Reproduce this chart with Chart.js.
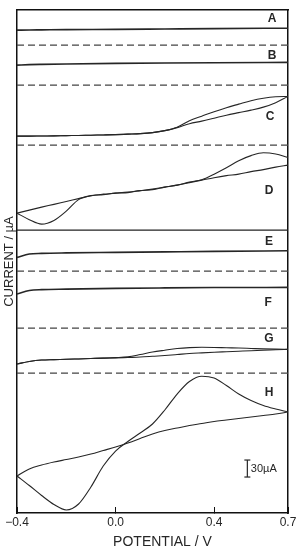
<!DOCTYPE html>
<html>
<head>
<meta charset="utf-8">
<script src="https://cdn.jsdelivr.net/npm/chart.js@4.4.1/dist/chart.umd.min.js"></script>
<style>
  html, body { margin: 0; padding: 0; background: #fff; }
</style>
</head>
<body>
<canvas id="cvChart" width="296" height="548"></canvas>
<script>
// potential grid (V) for the full voltammograms
const potential = [-0.4, -0.35, -0.3, -0.25, -0.2, -0.15, -0.1, -0.05, 0.0, 0.05, 0.1, 0.15,
                   0.2, 0.25, 0.3, 0.35, 0.4, 0.45, 0.5, 0.55, 0.6, 0.65, 0.7];
// coarser grid for the nearly flat traces
const potentialFlat = [-0.4, -0.35, -0.3, -0.2, 0.0, 0.2, 0.4, 0.7];

const panels = ['A', 'B', 'C', 'D', 'E', 'F', 'G', 'H'];
// each panel sits on its own baseline of the stacked current axis (uA)
const panelBase = [825.9, 755.3, 649.4, 499.4, 427.1, 326.5, 247.1, 0];

// currents (uA) above the panel baseline
const currentA = [26.5, 26.8, 27.0, 27.4, 27.9, 28.6, 29.3, 30.0];
const currentB = [35.3, 36.2, 36.7, 37.4, 38.5, 39.2, 39.7, 40.2];
const currentCfwd = [15.9, 15.9, 16.2, 16.4, 16.8, 17.1, 17.6, 18.0, 18.5, 19.4, 20.3, 22.1,
                     25.6, 31.8, 43.2, 51.2, 59.1, 66.2, 72.4, 78.5, 82.9, 85.5, 86.0];
const currentCrev = [15.9, 15.9, 16.2, 16.4, 16.8, 17.1, 17.6, 18.0, 18.5, 19.4, 20.3, 22.1,
                     25.6, 30.9, 37.9, 42.4, 47.6, 52.9, 57.4, 61.8, 67.1, 75.0, 86.0];
const currentDfwd = [30.0, 18.5, 10.6, 17.1, 33.5, 53.8, 60.9, 62.6, 65.3, 66.2, 69.7, 71.5,
                     75.9, 79.4, 84.7, 89.0, 98.8, 110.0, 122.6, 131.5, 136.6, 134.5, 128.3];
const currentDrev = [30.0, 35.3, 40.6, 45.5, 50.6, 55.6, 60.7, 63.5, 65.3, 67.1, 69.7, 72.4,
                     75.9, 79.4, 83.8, 88.2, 92.6, 96.2, 98.8, 103.2, 106.8, 111.2, 114.7];
const currentE = [24.2, 30.0, 31.2, 32.1, 33.0, 33.9, 34.8, 35.8];
const currentF = [60.0, 66.2, 67.9, 68.8, 70.1, 70.9, 71.5, 71.8];
const currentGfwd = [15.9, 20.3, 22.9, 23.6, 24.2, 24.9, 25.6, 26.3, 27.2, 28.6, 32.6, 37.1,
                     40.3, 43.2, 44.8, 45.4, 45.2, 44.6, 44.1, 43.4, 42.7, 42.2, 41.8];
const currentGrev = [15.9, 20.3, 22.9, 23.6, 24.2, 24.9, 25.6, 26.3, 26.8, 27.5, 28.2, 29.5,
                     30.9, 32.6, 34.4, 35.6, 36.7, 37.6, 38.5, 39.4, 40.1, 41.0, 41.8];
const currentHpeak = [65.3, 48.5, 30.9, 15.0, 5.3, 15.9, 45.9, 82.9, 109.4, 126.2, 141.2, 157.1,
                      181.8, 210.0, 232.1, 241.4, 238.2, 225.0, 210.0, 198.5, 189.7, 183.5, 178.2];
const currentHflat = [65.3, 77.6, 84.7, 90.0, 94.4, 98.8, 104.1, 110.3, 116.5, 123.5, 131.5, 139.4,
                      145.6, 150.0, 154.4, 157.9, 161.5, 164.1, 166.8, 169.4, 172.1, 174.7, 178.2];

const xTicks = [-0.4, 0.0, 0.4, 0.7];
const scaleBar = { x: 0.535, y0: 63.5, span: 30, label: '30\u00b5A' };

// where the panel letters go (V, uA on the stacked axis)
const labelV = [0.635, 0.635, 0.627, 0.623, 0.623, 0.619, 0.623, 0.623];
const labelY = [873.5, 808.2, 698.8, 568.2, 478.2, 370.6, 307.1, 211.8];

const ink = '#262626';

function trace(xs, ys, panel, width) {
    return {
        data: xs.map((v, i) => ({ x: v, y: panelBase[panel] + ys[i] })),
        borderColor: ink,
        borderWidth: width,
        pointRadius: 0,
        cubicInterpolationMode: 'monotone',
        fill: false
    };
}

const datasets = [
    trace(potentialFlat, currentA, 0, 1.6),
    trace(potentialFlat, currentB, 1, 1.6),
    trace(potential, currentCfwd, 2, 1.1),
    trace(potential, currentCrev, 2, 1.1),
    trace(potential, currentDfwd, 3, 1.1),
    trace(potential, currentDrev, 3, 1.1),
    trace(potentialFlat, currentE, 4, 1.6),
    trace(potentialFlat, currentF, 5, 1.6),
    trace(potential, currentGfwd, 6, 1.1),
    trace(potential, currentGrev, 6, 1.1),
    trace(potential, currentHpeak, 7, 1.1),
    trace(potential, currentHflat, 7, 1.1)
];

// separators between the panels (baselines of A..G), D closes the upper block
for (let i = 0; i < 7; i++) {
    datasets.push({
        data: [{ x: -0.4, y: panelBase[i] }, { x: 0.7, y: panelBase[i] }],
        borderColor: i === 3 ? '#222' : '#444',
        borderWidth: i === 3 ? 1.4 : 1.2,
        borderDash: i === 3 ? [] : [7, 4],
        pointRadius: 0
    });
}

// 30 uA scale bar
datasets.push({
    data: [{ x: scaleBar.x, y: scaleBar.y0 }, { x: scaleBar.x, y: scaleBar.y0 + scaleBar.span }],
    borderColor: ink,
    borderWidth: 1.2,
    pointStyle: 'line',
    pointRadius: 3,
    pointBorderWidth: 1.2,
    pointBorderColor: ink
});

const annotate = {
    id: 'annotate',
    afterDatasetsDraw(chart) {
        const { ctx, chartArea } = chart;
        const x = chart.scales.x, y = chart.scales.y;
        ctx.save();
        ctx.fillStyle = ink;
        ctx.textAlign = 'center';
        ctx.textBaseline = 'middle';
        ctx.font = 'bold 12px "Liberation Sans"';
        panels.forEach((p, i) => {
            ctx.fillText(p, x.getPixelForValue(labelV[i]), y.getPixelForValue(labelY[i]));
        });
        ctx.font = '11px "Liberation Sans"';
        ctx.textAlign = 'left';
        ctx.fillText(scaleBar.label, x.getPixelForValue(scaleBar.x) + 3.5,
            y.getPixelForValue(scaleBar.y0 + scaleBar.span / 2));
        ctx.font = '14px "Liberation Sans"';
        ctx.textAlign = 'center';
        ctx.fillText('POTENTIAL / V', (chartArea.left + chartArea.right) / 2 + 10, chartArea.bottom + 29);
        ctx.restore();
    }
};

const frame = { display: true, color: '#111', width: 1.5 };

new Chart(document.getElementById('cvChart'), {
    type: 'line',
    data: { datasets: datasets },
    plugins: [annotate],
    options: {
        responsive: false,
        animation: false,
        layout: { padding: { top: 10, right: 8, left: 0, bottom: 0 } },
        plugins: { legend: { display: false }, tooltip: { enabled: false } },
        scales: {
            x: {
                type: 'linear',
                min: -0.4,
                max: 0.7,
                afterBuildTicks: scale => { scale.ticks = xTicks.map(v => ({ value: v })); },
                afterFit: scale => { scale.height = 35; scale.paddingLeft = 0; scale.paddingRight = 0; },
                border: frame,
                grid: { drawOnChartArea: false, drawTicks: true, tickLength: -6, color: '#111', lineWidth: 1 },
                ticks: {
                    autoSkip: false,
                    maxRotation: 0,
                    padding: 8,
                    color: ink,
                    font: { family: 'Liberation Sans', size: 12 },
                    callback: v => (v < 0 ? '\u2212' + Math.abs(v).toFixed(1) : v.toFixed(1))
                }
            },
            xTop: {
                type: 'linear', position: 'top', min: -0.4, max: 0.7,
                border: frame,
                grid: { display: false, drawTicks: false },
                ticks: { display: false }
            },
            y: {
                type: 'linear',
                min: 0,
                max: 888,
                afterFit: scale => { scale.width = 17; },
                border: frame,
                grid: { display: false, drawTicks: false },
                ticks: { display: false },
                title: {
                    display: true,
                    text: 'CURRENT / \u00b5A',
                    color: ink,
                    padding: { top: 2, bottom: 0 },
                    font: { family: 'Liberation Sans', size: 13 }
                }
            },
            yRight: {
                type: 'linear', position: 'right', min: 0, max: 888,
                border: frame,
                grid: { display: false, drawTicks: false },
                ticks: { display: false }
            }
        }
    }
});
</script>
</body>
</html>
